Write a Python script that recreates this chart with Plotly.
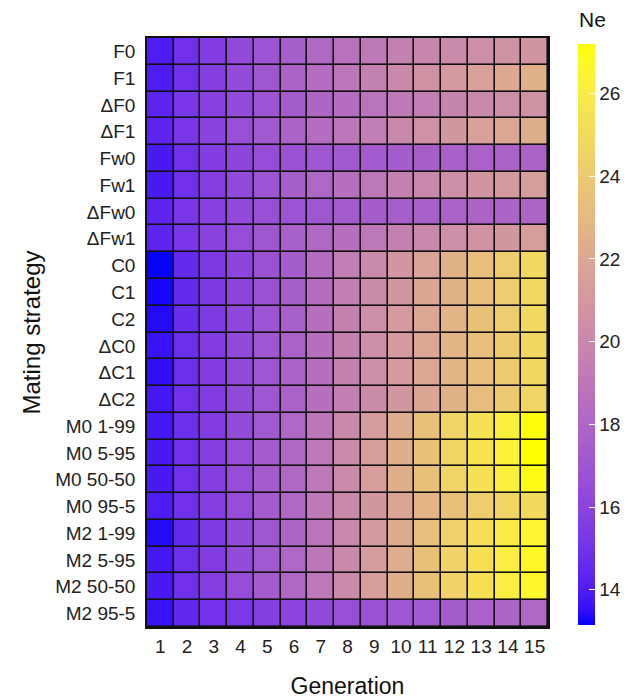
import numpy as np
import plotly.graph_objects as go

generations = list(range(1, 16))
strategies = ["F0", "F1", "ΔF0", "ΔF1", "Fw0", "Fw1", "ΔFw0", "ΔFw1",
              "C0", "C1", "C2", "ΔC0", "ΔC1", "ΔC2",
              "M0 1-99", "M0 5-95", "M0 50-50", "M0 95-5",
              "M2 1-99", "M2 5-95", "M2 50-50", "M2 95-5"]

ne_F0 = [14.0, 14.9, 15.6, 16.3, 16.9, 17.5, 18.1, 18.7, 19.2, 19.6, 19.9, 20.2, 20.4, 20.6, 20.8]
ne_F1 = [14.0, 14.9, 15.7, 16.4, 17.1, 17.8, 18.4, 19.0, 19.6, 20.1, 20.6, 21.1, 21.6, 22.0, 22.5]
ne_dF0 = [14.3, 15.2, 15.8, 16.4, 16.9, 17.4, 17.9, 18.4, 18.8, 19.2, 19.5, 19.8, 20.1, 20.4, 20.6]
ne_dF1 = [14.3, 15.2, 15.9, 16.6, 17.2, 17.8, 18.4, 19.0, 19.5, 20.0, 20.5, 21.0, 21.5, 21.9, 22.3]
ne_Fw0 = [13.9, 14.9, 15.6, 16.1, 16.5, 16.8, 17.0, 17.2, 17.3, 17.4, 17.5, 17.6, 17.7, 17.7, 17.8]
ne_Fw1 = [13.9, 14.9, 15.7, 16.3, 16.9, 17.5, 18.0, 18.6, 19.1, 19.6, 20.0, 20.4, 20.8, 21.1, 21.4]
ne_dFw0 = [14.3, 15.2, 15.8, 16.3, 16.6, 16.9, 17.1, 17.3, 17.4, 17.5, 17.6, 17.7, 17.8, 17.8, 17.9]
ne_dFw1 = [14.3, 15.2, 15.9, 16.5, 17.1, 17.6, 18.1, 18.6, 19.1, 19.6, 20.0, 20.4, 20.7, 21.0, 21.3]
ne_C0 = [13.2, 14.6, 15.4, 16.1, 16.8, 17.4, 18.4, 19.4, 20.2, 20.9, 21.7, 22.6, 23.4, 24.2, 24.9]
ne_C1 = [13.3, 14.6, 15.4, 16.1, 16.8, 17.5, 18.5, 19.5, 20.3, 21.0, 21.8, 22.6, 23.4, 24.2, 24.9]
ne_C2 = [13.4, 14.7, 15.5, 16.2, 16.9, 17.6, 18.6, 19.6, 20.4, 21.1, 21.9, 22.7, 23.5, 24.2, 24.9]
ne_dC0 = [13.6, 14.8, 15.6, 16.3, 17.0, 17.7, 18.6, 19.6, 20.4, 21.1, 21.9, 22.7, 23.4, 24.1, 24.8]
ne_dC1 = [13.5, 14.8, 15.6, 16.3, 17.0, 17.7, 18.6, 19.6, 20.4, 21.1, 21.9, 22.7, 23.4, 24.1, 24.8]
ne_dC2 = [13.8, 14.9, 15.6, 16.3, 17.0, 17.7, 18.6, 19.5, 20.3, 21.0, 21.8, 22.6, 23.3, 24.0, 24.7]
ne_M0_1_99 = [13.8, 14.8, 15.6, 16.4, 17.2, 18.0, 19.0, 20.1, 21.2, 22.3, 23.5, 24.6, 25.5, 26.3, 27.1]
ne_M0_5_95 = [13.9, 14.9, 15.7, 16.5, 17.3, 18.1, 19.1, 20.2, 21.3, 22.4, 23.6, 24.7, 25.6, 26.4, 27.2]
ne_M0_50_50 = [13.9, 14.9, 15.7, 16.5, 17.3, 18.1, 19.1, 20.2, 21.3, 22.4, 23.5, 24.6, 25.5, 26.3, 27.0]
ne_M0_95_5 = [14.0, 14.9, 15.7, 16.5, 17.3, 18.1, 19.2, 20.1, 21.0, 21.8, 22.7, 23.5, 24.2, 24.6, 25.0]
ne_M2_1_99 = [13.4, 14.6, 15.5, 16.3, 17.1, 17.9, 18.9, 20.0, 21.1, 22.2, 23.4, 24.4, 25.3, 26.0, 26.6]
ne_M2_5_95 = [13.8, 14.8, 15.6, 16.4, 17.2, 18.0, 19.0, 20.1, 21.2, 22.3, 23.5, 24.5, 25.4, 26.1, 26.8]
ne_M2_50_50 = [13.9, 14.9, 15.7, 16.5, 17.3, 18.1, 19.1, 20.2, 21.3, 22.4, 23.5, 24.5, 25.4, 26.1, 26.7]
ne_M2_95_5 = [13.6, 14.5, 15.0, 15.3, 15.7, 16.0, 16.3, 16.6, 16.8, 17.0, 17.2, 17.4, 17.7, 17.9, 18.1]

z = [ne_F0, ne_F1, ne_dF0, ne_dF1, ne_Fw0, ne_Fw1, ne_dFw0, ne_dFw1,
     ne_C0, ne_C1, ne_C2, ne_dC0, ne_dC1, ne_dC2,
     ne_M0_1_99, ne_M0_5_95, ne_M0_50_50, ne_M0_95_5,
     ne_M2_1_99, ne_M2_5_95, ne_M2_50_50, ne_M2_95_5]

colorbar_ticks = [14, 16, 18, 20, 22, 24, 26]
zmin, zmax = 13.15, 27.2


# ggplot-like blue -> yellow gradient interpolated in CIELAB
def srgb_to_lab(rgb):
    c = np.array(rgb, dtype=float) / 255.0
    c = np.where(c > 0.04045, ((c + 0.055) / 1.055) ** 2.4, c / 12.92)
    M = np.array([[0.4124, 0.3576, 0.1805], [0.2126, 0.7152, 0.0722], [0.0193, 0.1192, 0.9505]])
    xyz = M @ c / np.array([0.95047, 1.0, 1.08883])
    f = np.where(xyz > 0.008856, np.cbrt(xyz), 7.787 * xyz + 16 / 116)
    return np.array([116 * f[1] - 16, 500 * (f[0] - f[1]), 200 * (f[1] - f[2])])


def lab_to_srgb(lab):
    L, a, b = lab
    fy = (L + 16) / 116
    fx = fy + a / 500
    fz = fy - b / 200
    f = np.array([fx, fy, fz])
    xyz = np.where(f ** 3 > 0.008856, f ** 3, (f - 16 / 116) / 7.787) * np.array([0.95047, 1.0, 1.08883])
    Minv = np.array([[3.2406, -1.5372, -0.4986], [-0.9689, 1.8758, 0.0415], [0.0557, -0.2040, 1.0570]])
    c = Minv @ xyz
    c = np.clip(c, 0, 1)
    c = np.where(c > 0.0031308, 1.055 * c ** (1 / 2.4) - 0.055, 12.92 * c)
    c = np.clip(np.round(c * 255), 0, 255).astype(int)
    return "rgb(%d,%d,%d)" % tuple(c)


lab_lo = srgb_to_lab([0, 0, 255])
lab_hi = srgb_to_lab([255, 255, 0])
colorscale = [[t, lab_to_srgb(lab_lo + (lab_hi - lab_lo) * t)] for t in np.linspace(0, 1, 41)]

FONT = "Liberation Sans, Arial, sans-serif"

fig = go.Figure(go.Heatmap(
    x=generations,
    y=strategies,
    z=z,
    zmin=zmin,
    zmax=zmax,
    colorscale=colorscale,
    xgap=1.6,
    ygap=1.6,
    colorbar=dict(
        tickvals=colorbar_ticks,
        ticks="inside",
        ticklen=6,
        tickcolor="white",
        tickwidth=1,
        tickfont=dict(size=19, color="#222", family=FONT),
        thickness=17,
        lenmode="pixels",
        len=581,
        yanchor="top",
        y=0.99,
        x=1.075,
        xanchor="left",
        xpad=0,
        ypad=0,
        outlinewidth=0,
    ),
))

fig.add_annotation(
    text="Ne", xref="paper", yref="paper", x=1.073, y=1.0, yshift=5,
    xanchor="left", yanchor="bottom", showarrow=False,
    font=dict(size=21, color="#111", family=FONT),
)

# page body adds an 8px offset; figure is sized so it still fits the 632x700 window
fig.update_layout(
    width=624,
    height=692,
    margin=dict(l=139, r=84, t=30, b=73, autoexpand=False),
    paper_bgcolor="white",
    plot_bgcolor="#111111",
    font=dict(family=FONT, color="#222"),
    xaxis=dict(
        title=dict(text="Generation", font=dict(size=23, color="#111"), standoff=22),
        tickvals=generations,
        ticktext=[str(g) for g in generations],
        tickfont=dict(size=19, color="#222"),
        range=[0.5, 15.5],
        showgrid=False,
        zeroline=False,
        ticks="",
        ticklabelstandoff=1,
        showline=True,
        linecolor="#111",
        linewidth=1.5,
        mirror=True,
    ),
    yaxis=dict(
        title=dict(text="Mating strategy", font=dict(size=24, color="#111"), standoff=8),
        tickfont=dict(size=19, color="#222"),
        autorange="reversed",
        showgrid=False,
        zeroline=False,
        ticks="",
        ticklabelstandoff=6,
        showline=True,
        linecolor="#111",
        linewidth=1.5,
        mirror=True,
    ),
)

fig.write_html("out.html")
